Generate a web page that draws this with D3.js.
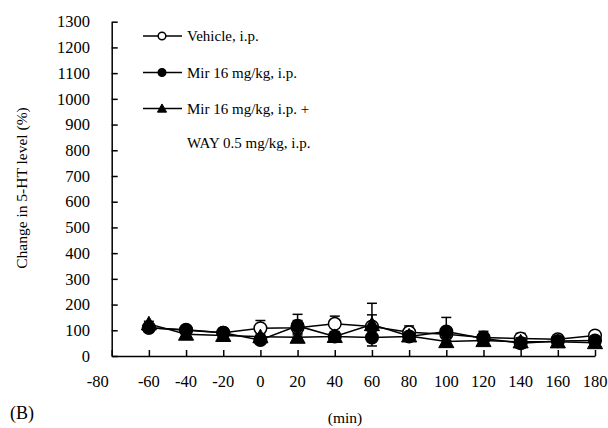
<!DOCTYPE html>
<html><head><meta charset="utf-8">
<script src="https://cdn.jsdelivr.net/npm/d3@7"></script>
<style>body{margin:0;background:#fff}svg{display:block;font-family:"Liberation Serif","Times New Roman",serif}</style>
</head><body>
<script>
const times = [-60,-40,-20,0,20,40,60,80,100,120,140,160,180];
const xTicks = [-80,-60,-40,-20,0,20,40,60,80,100,120,140,160,180];
const yTicks = [0,100,200,300,400,500,600,700,800,900,1000,1100,1200,1300];
const vehicle = [110,100,90,108,110,125,115,92,85,72,68,65,80];
const vehicleErr = [10,8,8,30,28,30,45,25,25,15,20,8,8];
const mir = [110,102,90,62,117,76,72,76,95,68,50,58,60];
const mirErr = [10,8,8,10,45,10,10,10,55,28,20,15,10];
const way = [125,85,80,75,73,76,122,78,56,60,55,55,52];
const wayErr = [10,8,8,10,15,8,83,10,15,10,15,8,8];
const legendLabels = ["Vehicle, i.p.","Mir 16 mg/kg, i.p.","Mir 16 mg/kg, i.p. +","WAY 0.5 mg/kg, i.p."];

const W=608,H=428;
const svg=d3.select("body").append("svg").attr("width",W).attr("height",H);
const x=d3.scaleLinear().domain([-80,180]).range([111.7,595]);
const y=d3.scaleLinear().domain([0,1300]).range([356,21.7]);

const xAxis=d3.axisBottom(x).tickValues(xTicks).tickSizeInner(-6).tickSizeOuter(0).tickFormat("");
const gx=svg.append("g").attr("transform",`translate(0,${y(0)})`).call(xAxis);
const yAxis=d3.axisLeft(y).tickValues(yTicks).tickSizeInner(-6).tickSizeOuter(0).tickFormat("");
const gy=svg.append("g").attr("transform",`translate(${x(-80)},0)`).call(yAxis);
[gx,gy].forEach(g=>{g.selectAll("path,line").attr("stroke","#000").attr("stroke-width",1.5);});

svg.append("g").selectAll("text").data(yTicks).join("text")
  .attr("x",90).attr("y",d=>y(d)).attr("dy","0.35em").attr("text-anchor","end")
  .attr("font-size",16.5).text(d=>d);
svg.append("g").selectAll("text").data(xTicks).join("text")
  .attr("x",d=>d===-80?x(d)-14:x(d)).attr("y",381).attr("dy","0.35em").attr("text-anchor","middle")
  .attr("font-size",16.5).text(d=>d);

svg.append("text").attr("transform",`translate(22,188) rotate(-90)`).attr("text-anchor","middle")
  .attr("dy","0.35em").attr("font-size",15.5).text("Change in 5-HT level (%)");
svg.append("text").attr("x",10).attr("y",413).attr("dy","0.35em").attr("font-size",18).text("(B)");
svg.append("text").attr("x",345).attr("y",418).attr("dy","0.35em").attr("text-anchor","middle").attr("font-size",15.5).text("(min)");

const series=[
  {v:vehicle,e:vehicleErr,shape:"circle",fill:"#fff"},
  {v:mir,e:mirErr,shape:"circle",fill:"#000"},
  {v:way,e:wayErr,shape:"triangle",fill:"#000"}
];
const line=d3.line().x((d,i)=>x(times[i])).y(d=>y(d));
function marker(g,shape,fill,cx,cy,size){
  if(shape==="circle"){
    g.append("circle").attr("cx",cx).attr("cy",cy).attr("r",size).attr("fill",fill).attr("stroke","#000").attr("stroke-width",1.5);
  } else {
    const s=size*1.2;
    g.append("path").attr("d",`M${cx},${cy-s}L${cx+s},${cy+s*0.8}L${cx-s},${cy+s*0.8}Z`).attr("fill",fill).attr("stroke","#000").attr("stroke-width",1);
  }
}
series.forEach(s=>{
  const g=svg.append("g");
  g.append("path").datum(s.v).attr("d",line).attr("fill","none").attr("stroke","#000").attr("stroke-width",1.5);
  s.v.forEach((v,i)=>{
    const cx=x(times[i]);
    const top=y(v+s.e[i]), bot=y(v-s.e[i]);
    g.append("line").attr("x1",cx).attr("x2",cx).attr("y1",top).attr("y2",bot).attr("stroke","#000").attr("stroke-width",1.5);
    g.append("line").attr("x1",cx-5).attr("x2",cx+5).attr("y1",top).attr("y2",top).attr("stroke","#000").attr("stroke-width",1.5);
    g.append("line").attr("x1",cx-5).attr("x2",cx+5).attr("y1",bot).attr("y2",bot).attr("stroke","#000").attr("stroke-width",1.5);
  });
  s.v.forEach((v,i)=>marker(g,s.shape,s.fill,x(times[i]),y(v),6.3));
});

const leg=svg.append("g");
const rowsY=[36,72.5,108.5];
series.forEach((s,i)=>{
  leg.append("line").attr("x1",143).attr("x2",182).attr("y1",rowsY[i]).attr("y2",rowsY[i]).attr("stroke","#000").attr("stroke-width",1.5);
  marker(leg,s.shape,s.fill,162,rowsY[i],3.8);
  leg.append("text").attr("x",187).attr("y",rowsY[i]).attr("dy","0.35em").attr("font-size",15).text(legendLabels[i]);
});
leg.append("text").attr("x",187).attr("y",143).attr("dy","0.35em").attr("font-size",15).text(legendLabels[3]);
</script>
</body></html>
